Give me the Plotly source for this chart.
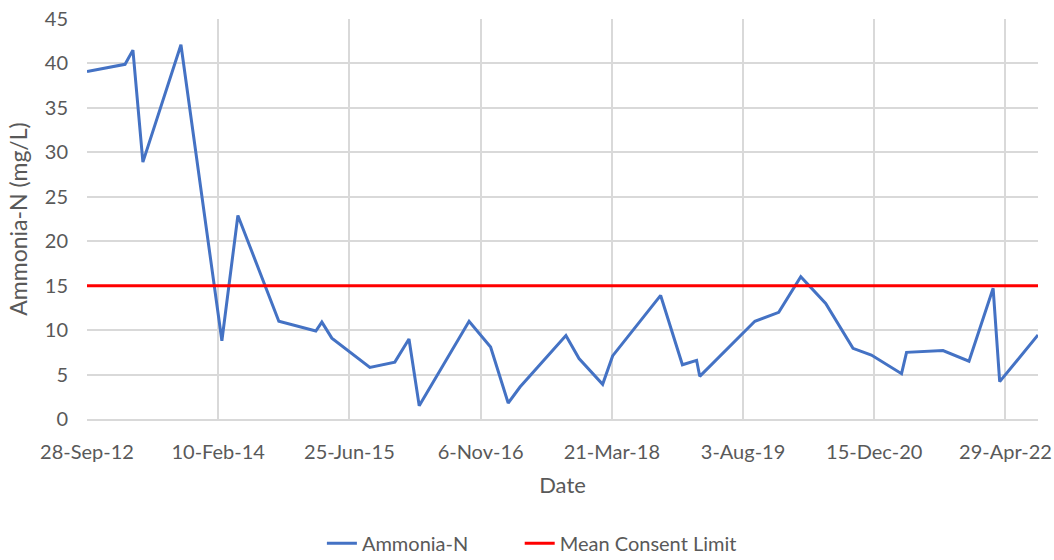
import plotly.graph_objects as go

dates = ["2012-09-28", "2013-02-20", "2013-03-22", "2013-04-29", "2013-09-21",
         "2014-02-24", "2014-04-26", "2014-09-29", "2015-02-17", "2015-03-12",
         "2015-04-19", "2015-09-11", "2015-12-15", "2016-02-07", "2016-03-17",
         "2016-09-23", "2016-12-14", "2017-02-19", "2017-04-05", "2017-09-27",
         "2017-11-16", "2018-02-14", "2018-03-24", "2018-09-23", "2018-12-15",
         "2019-02-07", "2019-02-19", "2019-09-17", "2019-12-17", "2020-03-10",
         "2020-06-13", "2020-09-25", "2020-12-04", "2021-03-29", "2021-04-17",
         "2021-09-03", "2021-12-11", "2022-03-13", "2022-04-07", "2022-08-31"]
ammonia = [39.1, 39.9, 41.5, 28.9, 42.1,
           8.8, 22.9, 11.0, 9.9, 10.9,
           9.1, 5.8, 6.4, 9.0, 1.5,
           11.0, 8.1, 1.8, 3.6, 9.4,
           6.8, 3.9, 7.1, 13.9, 6.1,
           6.6, 4.8, 11.0, 12.0, 16.0,
           13.0, 7.95, 7.2, 5.1, 7.5,
           7.7, 6.5, 14.7, 4.2, 9.45]
consent_limit = 15

tick_dates = ["2012-09-28", "2014-02-10", "2015-06-25", "2016-11-06",
              "2018-03-21", "2019-08-03", "2020-12-15", "2022-04-29"]
tick_labels = ["28-Sep-12", "10-Feb-14", "25-Jun-15", "6-Nov-16",
               "21-Mar-18", "3-Aug-19", "15-Dec-20", "29-Apr-22"]
y_ticks = [0, 5, 10, 15, 20, 25, 30, 35, 40, 45]

font_family = "Lato, Open Sans, sans-serif"
text_color = "#595959"
grid_color = "#d9d9d9"
fs = 20

fig = go.Figure()
fig.add_trace(go.Scatter(
    x=dates, y=ammonia, mode="lines", name="Ammonia-N",
    line=dict(color="#4472C4", width=3), legend="legend",
))
fig.add_trace(go.Scatter(
    x=[dates[0], dates[-1]], y=[consent_limit, consent_limit], mode="lines",
    name="Mean Consent Limit",
    line=dict(color="#FF0000", width=3), legend="legend2",
))

legend_common = dict(orientation="h", xanchor="left", yref="container",
                     y=0.03, yanchor="middle",
                     font=dict(size=fs, color=text_color),
                     bgcolor="rgba(0,0,0,0)")

fig.update_layout(
    width=1054, height=560,
    margin=dict(l=87, r=16, t=19, b=141, autoexpand=False),
    paper_bgcolor="white", plot_bgcolor="white",
    font=dict(family=font_family, size=fs, color=text_color),
    showlegend=True,
    legend=dict(x=0.247, **legend_common),
    legend2=dict(x=0.455, **legend_common),
    xaxis=dict(
        range=[dates[0], dates[-1]],
        tickmode="array", tickvals=tick_dates, ticktext=tick_labels,
        showgrid=True, gridcolor=grid_color, gridwidth=1.5,
        showline=True, linecolor=grid_color, linewidth=1.5,
        ticks="outside", ticklen=14, tickcolor="rgba(0,0,0,0)",
        zeroline=False, automargin=False,
        title=dict(text="Date", standoff=16, font=dict(size=22, color=text_color)),
        tickfont=dict(size=fs, color=text_color),
    ),
    yaxis=dict(
        range=[0, 45],
        tickmode="array", tickvals=y_ticks,
        showgrid=True, gridcolor=grid_color, gridwidth=1.5,
        showline=False, zeroline=False,
        ticks="outside", ticklen=14, tickcolor="rgba(0,0,0,0)",
        automargin=False,
        title=dict(text="Ammonia-N (mg/L)", standoff=10, font=dict(size=23, color=text_color)),
        tickfont=dict(size=fs, color=text_color),
    ),
)

fig.write_html("out.html")
